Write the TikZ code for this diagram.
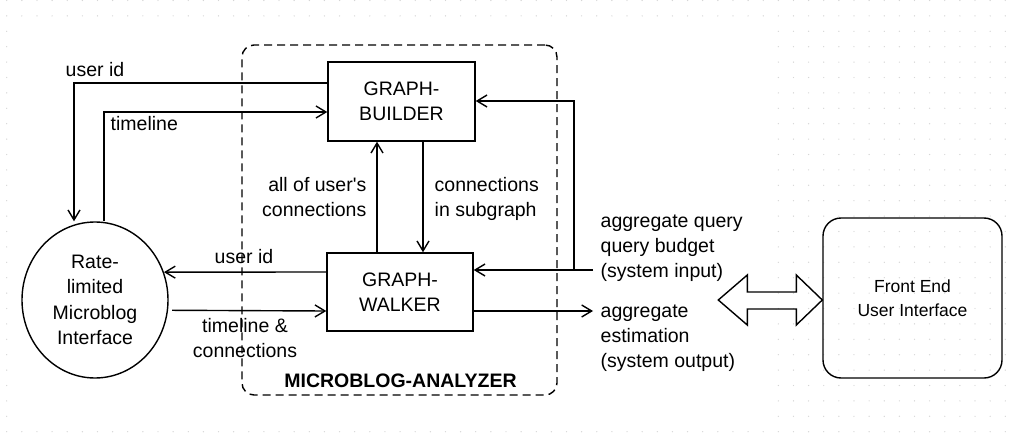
\documentclass[tikz,border=0pt]{standalone}
\usepackage{fontspec}
\setmainfont{Liberation Sans}
\usetikzlibrary{arrows.meta,shapes.geometric}
\definecolor{gridgray}{gray}{0.84}
\begin{document}
\begin{tikzpicture}[x=1pt,y=-1pt,line width=1.4pt,
  arr/.style={-{Straight Barb[length=10pt,width=12pt]}},
  blk/.style={draw,minimum width=147pt,minimum height=79pt,inner sep=0pt,align=center,
    font=\fontsize{19.5}{25.5}\selectfont},
  lbl/.style={inner sep=0pt,font=\fontsize{19.5}{25}\selectfont},
  frame/.style={draw,dash pattern=on 8pt off 5pt,rounded corners=12pt,inner sep=0pt},
]
\useasboundingbox (0,0) rectangle (1011,433);
% dotted drawing grid
\foreach \i in {0,...,66}
  \foreach \j in {0,...,28}
    \fill[gridgray] (6.7+15.13*\i,0.5+15.4*\j) circle (0.7pt);
\fill[white] (13,22) rectangle (772,425);

% analyzer frame
\node[frame,minimum width=315pt,minimum height=350pt] (analyzer) at (399.5,220) {};
\node[lbl,anchor=base,font=\fontsize{19.5}{25}\selectfont\bfseries] (analyzerlbl) at (400.5,387) {MICROBLOG-ANALYZER};

% blocks
\node[blk] (builder) at (401.5,101.5) {GRAPH-\\BUILDER};
\node[blk,minimum width=146pt,minimum height=78pt] (walker) at (400,292) {GRAPH-\\WALKER};
\node[draw,ellipse,minimum width=146pt,minimum height=156pt,inner sep=0pt,align=center,
  font=\fontsize{19.5}{25.5}\selectfont] (iface) at (95,300) {Rate-\\limited\\Microblog\\Interface};
\node[draw,rounded corners=18pt,minimum width=179pt,minimum height=160pt,inner sep=0pt,align=center,
  font=\fontsize{17.5}{24.5}\selectfont] (front) at (912.5,298) {Front End\\User Interface};

% labels
\node[lbl,anchor=base west] (uidtop) at (65,77) {user id};
\node[lbl,anchor=base west] (tl) at (110,131) {timeline};
\node[lbl,anchor=north east,align=right] (allconn) at (367,177) {all of user\textquotesingle s\\connections};
\node[lbl,anchor=north west,align=left] (subconn) at (434,177) {connections\\in subgraph};
\node[lbl,anchor=base] (uidlow) at (244,263) {user id};
\node[lbl,anchor=north,align=center] (tlconn) at (245,318) {timeline \&\\connections};
\node[lbl,anchor=north west,align=left] (qin) at (600,214) {aggregate query\\query budget\\(system input)};
\node[lbl,anchor=north west,align=left] (qout) at (600,304) {aggregate\\estimation\\(system output)};

% interface <-> builder
\coordinate (uidturn) at (74,83);
\draw[arr] (builder.west |- uidturn) -- (uidturn) -- (uidturn |- iface.north);
\coordinate (tlturn) at (104,112);
\draw[arr] (tlturn |- iface.north) -- (tlturn) -- (builder.west |- tlturn);

% builder <-> walker
\coordinate (upx) at (377,0);
\draw[arr] (walker.north -| upx) -- (builder.south -| upx);
\coordinate (dnx) at (423,0);
\draw[arr] (builder.south -| dnx) -- (walker.north -| dnx);

% interface <-> walker
\coordinate (uidlev) at (0,272);
\draw[arr] (walker.west |- uidlev) -- (iface.22.4);
\coordinate (tclev) at (0,311);
\draw[arr,shorten <=4pt] (iface.-8.6) -- (walker.west |- tclev);

% system input and output
\coordinate (injoin) at (574,270);
\coordinate (intap) at (593,270);
\coordinate (intop) at (574,101);
\draw[arr] (intap) -- (walker.east |- intap);
\draw[arr] (injoin) -- (intop) -- (builder.east |- intop);
\coordinate (outtip) at (593,311);
\draw[arr] (walker.east |- outtip) -- (outtip);

% two-way link to the front end
\coordinate (dblc) at (0,300);
\draw[line join=miter] (front.west |- dblc) -- ++(-26,-25) -- ++(0,17) -- ++(-49,0) -- ++(0,-17)
  -- ++(-29,25) -- ++(29,25) -- ++(0,-16) -- ++(49,0) -- ++(0,16) -- cycle;
\end{tikzpicture}
\end{document}
